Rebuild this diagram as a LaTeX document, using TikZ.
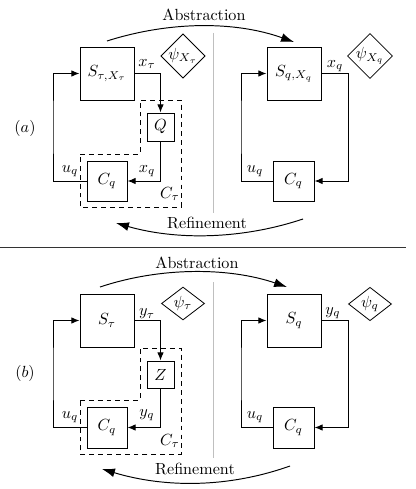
\documentclass[tikz,border=0pt]{standalone}
\usetikzlibrary{arrows.meta,shapes.geometric}
\begin{document}
\begin{tikzpicture}[x=0.62pt,y=-0.62pt,
  blk/.style={draw,rectangle,line width=0.6pt,inner sep=0pt,minimum width=#1*0.62pt},
  blk/.default=40,
  spec/.style={draw,diamond,line width=0.5pt,inner sep=0pt,minimum width=26.7pt},
  conn/.style={line width=0.6pt,-{Latex[length=5pt,width=4pt]}},
  plain/.style={line width=0.6pt},
  bigarr/.style={line width=0.6pt,-{Latex[length=8pt,width=5.5pt]}},
  dsh/.style={line width=0.6pt,dash pattern=on 3pt off 2.5pt},
  sep/.style={draw=black!25,line width=0.6pt},
  lbl/.style={inner sep=0pt}]
\useasboundingbox (0,0) rectangle (415,489);

% ---------------- panel (a) ----------------
\node[lbl] (ta) at (25,128) {$(a)$};
\node[lbl] (abA) at (204,15) {Abstraction};
\node[lbl] (reA) at (207,223) {Refinement};
\coordinate (abA1) at (107,41);
\coordinate (abA2) at (294,42);
\coordinate (reA1) at (303,219);
\coordinate (reA2) at (116,223);
\draw[bigarr] (abA1) .. controls (170,21) and (235,21) .. (abA2);
\draw[bigarr] (reA1) .. controls (240,240) and (175,240) .. (reA2);
\coordinate (sA1) at (213,33);
\coordinate (sA2) at (213,213);
\draw[sep] (sA1) -- (sA2);

\node[blk=54,minimum height=53*0.62pt] (S1) at (107,73.5) {$S_{\tau,X_\tau}$};
\node[blk=27,minimum height=28*0.62pt] (Q) at (160.5,127) {$Q$};
\node[blk=40,minimum height=40*0.62pt] (C1) at (107,181) {$C_q$};
\node[spec,minimum height=26.7pt] (D1) at (183,56) {$\psi_{X_\tau}$};
\coordinate (L1) at (53,127);
\draw[conn] (S1.east) -| (Q.north);
\draw[conn] (Q.south) |- (C1.east);
\draw[conn] (C1.west) -| (L1) |- (S1.west);
\node[lbl] (xt1) at (147,64) {$x_\tau$};
\node[lbl] (xq1) at (147,171) {$x_q$};
\node[lbl] (uq1) at (70,171) {$u_q$};
\node[lbl] (Ct1) at (170,194) {$C_\tau$};
\coordinate (dA1) at (80,154);
\coordinate (dA2) at (140,154);
\coordinate (dA3) at (140,100);
\coordinate (dA4) at (181,100);
\coordinate (dA5) at (181,207);
\coordinate (dA6) at (80,207);
\draw[dsh] (dA1) -- (dA2) -- (dA3) -- (dA4) -- (dA5) -- (dA6) -- cycle;

\node[blk=54,minimum height=53*0.62pt] (S2) at (294,73.5) {$S_{q,X_q}$};
\node[blk=41,minimum height=40*0.62pt] (C2) at (293.5,181) {$C_q$};
\node[spec,minimum height=26.7pt] (D2) at (370,56) {$\psi_{X_q}$};
\coordinate (R2) at (348,127);
\coordinate (L2) at (241,127);
\draw[plain] (S2.east) -| (R2);
\draw[conn] (R2) |- (C2.east);
\draw[conn] (C2.west) -| (L2) |- (S2.west);
\node[lbl] (xq2) at (335,66) {$x_q$};
\node[lbl] (uq2) at (255,171) {$u_q$};

% separator
\coordinate (h1) at (0,247);
\coordinate (h2) at (406,247);
\draw[line width=0.6pt,black!80] (h1) -- (h2);

% ---------------- panel (b) ----------------
\node[lbl] (tb) at (25,373) {$(b)$};
\node[lbl] (abB) at (197,263) {Abstraction};
\node[lbl] (reB) at (195,469) {Refinement};
\coordinate (abB1) at (100,287);
\coordinate (abB2) at (287,287);
\coordinate (reB1) at (290,466);
\coordinate (reB2) at (102,469);
\draw[bigarr] (abB1) .. controls (160,267) and (228,267) .. (abB2);
\draw[bigarr] (reB1) .. controls (228,488) and (165,488) .. (reB2);
\coordinate (sB1) at (213,282);
\coordinate (sB2) at (213,458);
\draw[sep] (sB1) -- (sB2);

\node[blk=54,minimum height=53*0.62pt] (S3) at (107,320.5) {$S_\tau$};
\node[blk=27,minimum height=27*0.62pt] (Z) at (160.5,374.5) {$Z$};
\node[blk=40,minimum height=41*0.62pt] (C3) at (107,427.5) {$C_q$};
\node[spec,minimum height=19.2pt] (D3) at (183,303.5) {$\psi_\tau$};
\coordinate (L3) at (53,374);
\draw[conn] (S3.east) -| (Z.north);
\draw[conn] (Z.south) |- (C3.east);
\draw[conn] (C3.west) -| (L3) |- (S3.west);
\node[lbl] (yt3) at (147,314) {$y_\tau$};
\node[lbl] (yq3) at (147,415) {$y_q$};
\node[lbl] (uq3) at (70,417) {$u_q$};
\node[lbl] (Ct3) at (170,441) {$C_\tau$};
\coordinate (dB1) at (80,400);
\coordinate (dB2) at (140,400);
\coordinate (dB3) at (140,348);
\coordinate (dB4) at (181,348);
\coordinate (dB5) at (181,454);
\coordinate (dB6) at (80,454);
\draw[dsh] (dB1) -- (dB2) -- (dB3) -- (dB4) -- (dB5) -- (dB6) -- cycle;

\node[blk=54,minimum height=53*0.62pt] (S4) at (294,320.5) {$S_q$};
\node[blk=41,minimum height=41*0.62pt] (C4) at (293.5,427.5) {$C_q$};
\node[spec,minimum height=19.2pt] (D4) at (370,304) {$\psi_q$};
\coordinate (R4) at (348,374);
\coordinate (L4) at (241,374);
\draw[plain] (S4.east) -| (R4);
\draw[conn] (R4) |- (C4.east);
\draw[conn] (C4.west) -| (L4) |- (S4.west);
\node[lbl] (yq4) at (333,313) {$y_q$};
\node[lbl] (uq4) at (255,417) {$u_q$};
\end{tikzpicture}
\end{document}
